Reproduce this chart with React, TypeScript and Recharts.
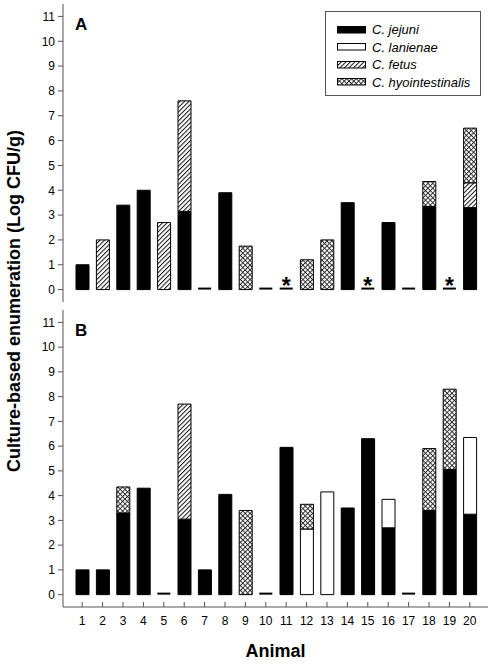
import React from "react";
import { Bar, BarChart, Legend, ReferenceDot, XAxis, YAxis } from "recharts";

const FONT = "'Liberation Sans', Arial, sans-serif";
const AXIS = "#555";

const animals = ["1", "2", "3", "4", "5", "6", "7", "8", "9", "10", "11", "12", "13", "14", "15", "16", "17", "18", "19", "20"];
const yTicks = [0, 1, 2, 3, 4, 5, 6, 7, 8, 9, 10, 11];

// panel A (segment heights, Log CFU/g)
const jejuniA = [1.0, 0, 3.4, 4.0, 0, 3.15, 0, 3.9, 0, 0, 0, 0, 0, 3.5, 0, 2.7, 0, 3.35, 0, 3.3];
const lanienaeA = [0, 0, 0, 0, 0, 0, 0, 0, 0, 0, 0, 0, 0, 0, 0, 0, 0, 0, 0, 0];
const fetusA = [0, 2.0, 0, 0, 2.7, 4.45, 0, 0, 0, 0, 0, 0, 0, 0, 0, 0, 0, 0, 0, 1.0];
const hyoA = [0, 0, 0, 0, 0, 0, 0, 0, 1.75, 0, 0, 1.2, 2.0, 0, 0, 0, 0, 1.0, 0, 2.2];
// 0 = detected, 1 = none detected, 2 = none detected (*)
const notDetectedA = [0, 0, 0, 0, 0, 0, 1, 0, 0, 1, 2, 0, 0, 0, 2, 0, 1, 0, 2, 0];

// panel B
const jejuniB = [1.0, 1.0, 3.3, 4.3, 0, 3.05, 1.0, 4.05, 0, 0, 5.95, 0, 0, 3.5, 6.3, 2.7, 0, 3.4, 5.05, 3.25];
const lanienaeB = [0, 0, 0, 0, 0, 0, 0, 0, 0, 0, 0, 2.65, 4.15, 0, 0, 1.15, 0, 0, 0, 3.1];
const fetusB = [0, 0, 0, 0, 0, 4.65, 0, 0, 0, 0, 0, 0, 0, 0, 0, 0, 0, 0, 0, 0];
const hyoB = [0, 0, 1.05, 0, 0, 0, 0, 0, 3.4, 0, 0, 1.0, 0, 0, 0, 0, 0, 2.5, 3.25, 0];
const notDetectedB = [0, 0, 0, 0, 1, 0, 0, 0, 0, 1, 0, 0, 0, 0, 0, 0, 1, 0, 0, 0];

const species = [
  { key: "jejuni", name: "C. jejuni" },
  { key: "lanienae", name: "C. lanienae" },
  { key: "fetus", name: "C. fetus" },
  { key: "hyo", name: "C. hyointestinalis" }
];

const BAR_W = 13;

function fillFor(key: string, id: string) {
  if (key === "jejuni") return "#000";
  if (key === "lanienae") return "#fff";
  return `url(#${id}-${key})`;
}

function Patterns({ id }: { id: string }) {
  return (
    <defs>
      <pattern id={`${id}-fetus`} width={3.2} height={3.2} patternUnits="userSpaceOnUse" patternTransform="rotate(45)">
        <rect width={3.2} height={3.2} fill="#fff" />
        <line x1={0.5} y1={0} x2={0.5} y2={3.2} stroke="#111" strokeWidth={1} />
      </pattern>
      <pattern id={`${id}-hyo`} width={3.4} height={3.4} patternUnits="userSpaceOnUse" patternTransform="rotate(45)">
        <rect width={3.4} height={3.4} fill="#fff" />
        <line x1={0.5} y1={0} x2={0.5} y2={3.4} stroke="#222" strokeWidth={0.9} />
        <line x1={0} y1={0.5} x2={3.4} y2={0.5} stroke="#222" strokeWidth={0.9} />
      </pattern>
    </defs>
  );
}

function notDetectedShape(flag: number) {
  return (props: any) => {
    const { cx, cy } = props;
    return (
      <g>
        <line x1={cx - BAR_W / 2} x2={cx + BAR_W / 2} y1={cy - 1} y2={cy - 1} stroke="#000" strokeWidth={2} />
        {flag === 2 && (
          <text x={cx} y={cy + 4} textAnchor="middle" fontSize={23} fontWeight="bold" fontFamily={FONT} fill="#000">
            *
          </text>
        )}
      </g>
    );
  };
}

function LegendBox({ id }: { id: string }) {
  return (
    <div
      style={{
        position: "relative",
        width: 156,
        height: 85,
        boxSizing: "border-box",
        border: `1px solid ${AXIS}`,
        background: "#fff",
        fontFamily: FONT
      }}
    >
      {species.map((s, i) => (
        <div
          key={s.key}
          style={{ position: "absolute", left: 11, top: 9 + i * 17.5, height: 17.5, display: "flex", alignItems: "center" }}
        >
          <svg width={29} height={8} style={{ display: "block" }}>
            <rect x={0.5} y={0.5} width={28} height={6.5} fill={fillFor(s.key, id)} stroke="#000" strokeWidth={1} />
          </svg>
          <span style={{ marginLeft: 6, fontSize: 13, fontStyle: "italic", color: "#000", whiteSpace: "nowrap" }}>{s.name}</span>
        </div>
      ))}
    </div>
  );
}

type PanelProps = {
  id: string;
  series: Record<string, number[]>;
  notDetected: number[];
  height: number;
  bottom: number;
  axisHeight: number;
  showLabels: boolean;
  showLegend: boolean;
};

function Panel({ id, series, notDetected, height, bottom, axisHeight, showLabels, showLegend }: PanelProps) {
  const rows = animals.map((animal, i) => ({
    animal,
    jejuni: series.jejuni[i],
    lanienae: series.lanienae[i],
    fetus: series.fetus[i],
    hyo: series.hyo[i]
  }));
  return (
    <BarChart width={494} height={height} data={rows} margin={{ top: 4, right: 6, bottom, left: 33 }} barSize={BAR_W}>
      <Patterns id={id} />
      <XAxis
        dataKey="animal"
        interval={0}
        padding={{ left: 9, right: 8 }}
        height={axisHeight}
        tickSize={-5}
        tickMargin={14}
        tick={showLabels ? { fontSize: 12, fill: "#000", fontFamily: FONT } : () => <g />}
        tickLine={{ stroke: AXIS }}
        axisLine={{ stroke: AXIS }}
        label={
          showLabels
            ? { value: "Animal", position: "insideBottom", offset: 7, fontSize: 18, fontWeight: "bold", fill: "#000", fontFamily: FONT }
            : undefined
        }
      />
      <XAxis xAxisId="top" dataKey="animal" orientation="top" height={0} tick={false} tickLine={false} axisLine={{ stroke: AXIS }} />
      <YAxis
        type="number"
        domain={[-0.5, 11.5]}
        ticks={yTicks}
        interval={0}
        width={30}
        tickSize={5}
        tickMargin={3}
        tick={{ fontSize: 12, fill: "#000", fontFamily: FONT }}
        tickLine={{ stroke: AXIS }}
        axisLine={{ stroke: AXIS }}
        allowDataOverflow
      />
      <YAxis yAxisId="right" orientation="right" width={0} tick={false} tickLine={false} axisLine={{ stroke: AXIS }} />
      {showLegend && (
        <Legend
          layout="vertical"
          align="center"
          verticalAlign="middle"
          wrapperStyle={{ left: 325, top: 11, width: 156, height: 85 }}
          content={() => <LegendBox id={id} />}
        />
      )}
      {species.map((s) => (
        <Bar
          key={s.key}
          dataKey={s.key}
          name={s.name}
          stackId="a"
          fill={fillFor(s.key, id)}
          stroke="#000"
          strokeWidth={1}
          isAnimationActive={false}
        />
      ))}
      {animals.map((animal, i) =>
        notDetected[i] ? (
          <ReferenceDot key={`nd-${animal}`} x={animal} y={0} r={0} shape={notDetectedShape(notDetected[i])} ifOverflow="visible" />
        ) : null
      )}
    </BarChart>
  );
}

export default function App() {
  return (
    <div style={{ position: "absolute", left: 0, top: 0, width: 494, height: 664, background: "#fff", fontFamily: FONT }}>
      <div style={{ position: "absolute", left: 0, top: 0 }}>
        <Panel
          id="pa"
          series={{ jejuni: jejuniA, lanienae: lanienaeA, fetus: fetusA, hyo: hyoA }}
          notDetected={notDetectedA}
          height={310}
          bottom={8}
          axisHeight={0}
          showLabels={false}
          showLegend
        />
      </div>
      <div style={{ position: "absolute", left: 0, top: 306 }}>
        <Panel
          id="pb"
          series={{ jejuni: jejuniB, lanienae: lanienaeB, fetus: fetusB, hyo: hyoB }}
          notDetected={notDetectedB}
          height={358}
          bottom={0}
          axisHeight={57}
          showLabels
          showLegend={false}
        />
      </div>
      <svg width={494} height={664} style={{ position: "absolute", left: 0, top: 0, pointerEvents: "none" }}>
        <text x={75} y={30} fontSize={17} fontWeight="bold" fontFamily={FONT} fill="#000">A</text>
        <text x={75} y={336} fontSize={17} fontWeight="bold" fontFamily={FONT} fill="#000">B</text>
        <text
          transform="translate(20, 301) rotate(-90)"
          textAnchor="middle"
          fontSize={18}
          fontWeight="bold"
          fontFamily={FONT}
          fill="#000"
        >
          Culture-based enumeration (Log CFU/g)
        </text>
      </svg>
    </div>
  );
}
